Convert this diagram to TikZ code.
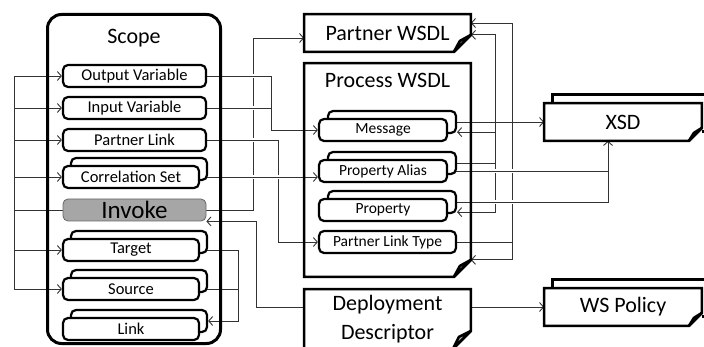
\documentclass[tikz,border=0pt]{standalone}
\usepackage{fontspec}
\setmainfont{Carlito}
\usetikzlibrary{positioning,arrows.meta}

\pgfdeclarelayer{lines}
\pgfsetlayers{lines,main}

\tikzset{
  item/.style={draw, line width=2.2pt, rounded corners=5pt, fill=white, minimum height=22pt, inner sep=0pt, font=\fontsize{16.5}{18}\selectfont},
  pitem/.style={item, font=\fontsize{15.5}{17}\selectfont},
  doc/.style={inner sep=0pt, align=center, font=\fontsize{22}{29}\selectfont},
  docedge/.style={line width=2.6pt},
  conn/.style={draw=black!80, line width=0.9pt, >={Straight Barb[length=4pt,width=9pt]}},
  bridge/.style={preaction={draw=white, line width=3.5pt, shorten >=2pt}}
}

% outline of a document with folded corner: node, cut, fold
\newcommand{\docoutline}[3]{%
  \draw[docedge] (#1.north west) -- (#1.north east) -- ([yshift=#2]#1.south east) coordinate (#1cut)
    -- ([xshift=-#2]#1.south east) -- (#1.south west) -- cycle;
  \draw[docedge, line join=round, fill=black!25] (#1cut) -- ([xshift=-#3, yshift=#3]#1.south east) -- ([xshift=-#2]#1.south east) -- cycle;
}

\begin{document}
\begin{tikzpicture}[x=1pt, y=-1pt]
\useasboundingbox (0,0) rectangle (704,347);

% scope
\node[draw, line width=3pt, rounded corners=14pt, minimum width=173pt, minimum height=329pt] (scope) at (134,179) {};
\node[doc, below=16pt of scope.north] (scopetitle) {Scope};

\node[item, minimum width=143pt] (outv) at (134.5,76) {Output Variable};
\node[item, minimum width=143pt] (inv) at (134.5,108) {Input Variable};
\node[item, minimum width=143pt] (plink) at (134.5,140) {Partner Link};
\node[item, minimum width=136pt] (corrb) at (139,169) {};
\node[item, minimum width=136pt] (corr) at (131,177) {Correlation Set};
\node[item, minimum width=143pt, fill=black!35, draw=black!60, line width=0.8pt, font=\fontsize{25}{26}\selectfont] (invoke) at (134.5,210) {Invoke};
\node[item, minimum width=136pt] (targetb) at (139,242) {};
\node[item, minimum width=136pt] (target) at (131,250) {Target};
\node[item, minimum width=136pt] (sourceb) at (139,281) {};
\node[item, minimum width=136pt] (source) at (131,289) {Source};
\node[item, minimum width=136pt] (linkb) at (139,321) {};
\node[item, minimum width=136pt] (link) at (131,329) {Link};

% wsdl documents
\node[doc, minimum width=166.4pt, minimum height=37.4pt] (pwsdl) at (387.5,33) {Partner WSDL};
\docoutline{pwsdl}{17pt}{11pt}

\node[doc, minimum width=166.4pt, minimum height=213.4pt] (process) at (387.5,170) {};
\node[doc, below=10pt of process.north] (processtitle) {Process WSDL};
\docoutline{process}{17pt}{11pt}

\node[pitem, minimum width=128pt] (msgb) at (392,122) {};
\node[pitem, minimum width=128pt] (msg) at (383,130) {Message};
\node[pitem, minimum width=128pt] (paliasb) at (392,163) {};
\node[pitem, minimum width=128pt] (palias) at (383,171) {Property Alias};
\node[pitem, minimum width=128pt] (propb) at (392,202) {};
\node[pitem, minimum width=128pt] (prop) at (383,210) {Property};
\node[pitem, minimum width=137pt] (pltype) at (387.5,242) {Partner Link Type};

\node[doc, minimum width=166.4pt, minimum height=59.4pt] (deploy) at (387.5,319) {Deployment\\Descriptor};
\docoutline{deploy}{18pt}{12pt}

% xsd and policy
\node[doc, draw, line width=2.6pt, fill=white, minimum width=157.4pt, minimum height=37.4pt] (xsdb) at (631,113) {};
\node[doc, fill=white, minimum width=157.4pt, minimum height=37.4pt] (xsd) at (623,122) {XSD};
\docoutline{xsd}{13pt}{8pt}
\node[doc, draw, line width=2.6pt, fill=white, minimum width=157.4pt, minimum height=37.4pt] (wspb) at (631,298) {};
\node[doc, fill=white, minimum width=157.4pt, minimum height=37.4pt] (wsp) at (623,307) {WS Policy};
\docoutline{wsp}{13pt}{8pt}

\coordinate (lbus) at (14,0);
\coordinate (xlnk) at (238,0);
\coordinate (xinv) at (253,0);
\coordinate (xdep) at (256,0);
\coordinate (xmsg) at (271,0);
\coordinate (xplt) at (278,0);
\coordinate (xpa) at (495,0);
\coordinate (xpl) at (512,0);
\coordinate (xxsd) at (608,0);

\begin{pgfonlayer}{lines}
\foreach \s in {outv, inv, plink, corr, target, source}
  \draw[conn, ->] (invoke.west) -- (invoke.west -| lbus) |- (\s.west);

\draw[conn, ->] (invoke.east) -- (invoke.east -| xinv) |- ([yshift=-5pt]pwsdl.west);
\draw[conn, ->] (deploy.west |- wsp.west) -- (wsp.west -| xdep) |- (invoke.south east);
\draw[conn, bridge, ->] (plink.east) -- (plink.east -| xplt) |- (pltype.west);
\draw[conn, bridge, ->] (outv.east) -- (outv.east -| xmsg) |- (msg.west);
\draw[conn, bridge] (inv.east) -- (inv.east -| xmsg);
\draw[conn, bridge, ->] (corr.east) -- (corr.east -| palias.west);

\draw[conn, ->] (target.east) -- (target.east -| xlnk) |- (linkb.east);
\draw[conn] (source.east) -- (source.east -| xlnk);

\draw[conn, ->] (pltype.east) -- (pltype.east -| xpl) |- ([yshift=10pt]pwsdl.east);
\draw[conn, ->] (pltype.east) -- (pltype.east -| xpl) |- (processcut);

\draw[conn, ->] (paliasb.east) -- (paliasb.east -| xpa) |- (pwsdlcut);
\draw[conn, ->] (paliasb.east) -- (paliasb.east -| xpa) |- ([yshift=2pt]msgb.south east);
\draw[conn, ->] (paliasb.east) -- (paliasb.east -| xpa) |- ([yshift=2pt]propb.south east);

\draw[conn, ->] (msgb.east) -- (msgb.east -| xsd.west);
\draw[conn, bridge, ->] (propb.east) -| (xsd.south -| xxsd);
\draw[conn, bridge] (palias.east) -- (palias.east -| xxsd);

\draw[conn, ->] (deploy.east |- wsp.west) -- (wsp.west);
\end{pgfonlayer}
\end{tikzpicture}
\end{document}
